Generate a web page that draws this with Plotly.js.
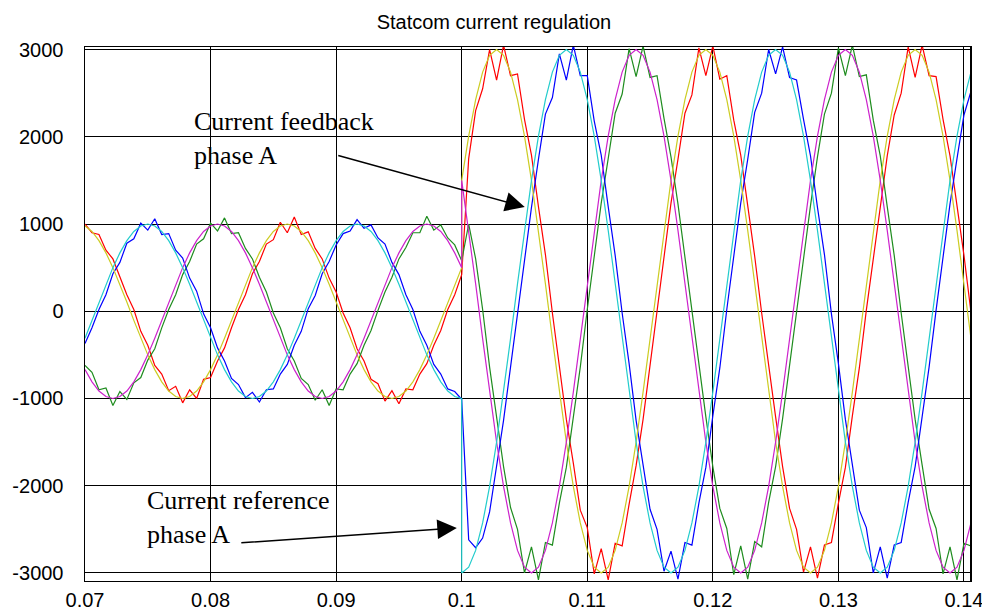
<!DOCTYPE html>
<html>
<head>
<meta charset="utf-8">
<script src="https://cdn.plot.ly/plotly-3.0.1.min.js"></script>
<style>html,body{margin:0;padding:0;background:#fff;}#chart{width:982px;height:613px;}</style>
</head>
<body>
<div id="chart"></div>
<script>
// time axis (s); 0.1 appears twice for the step in the references
const t = [
0.07,0.070556,0.071111,0.071667,0.072222,0.072778,0.073333,0.073889,0.074444,0.075,0.075556,0.076111,0.076667,0.077222,0.077778,0.078333,0.078889,0.079444,
0.08,0.080556,0.081111,0.081667,0.082222,0.082778,0.083333,0.083889,0.084444,0.085,0.085556,0.086111,0.086667,0.087222,0.087778,0.088333,0.088889,0.089444,
0.09,0.090556,0.091111,0.091667,0.092222,0.092778,0.093333,0.093889,0.094444,0.095,0.095556,0.096111,0.096667,0.097222,0.097778,0.098333,0.098889,0.099444,
0.1,0.1,
0.100556,0.101111,0.101667,0.102222,0.102778,0.103333,0.103889,0.104444,0.105,0.105556,0.106111,0.106667,0.107222,0.107778,0.108333,0.108889,0.109444,
0.11,0.110556,0.111111,0.111667,0.112222,0.112778,0.113333,0.113889,0.114444,0.115,0.115556,0.116111,0.116667,0.117222,0.117778,0.118333,0.118889,0.119444,
0.12,0.120556,0.121111,0.121667,0.122222,0.122778,0.123333,0.123889,0.124444,0.125,0.125556,0.126111,0.126667,0.127222,0.127778,0.128333,0.128889,0.129444,
0.13,0.130556,0.131111,0.131667,0.132222,0.132778,0.133333,0.133889,0.134444,0.135,0.135556,0.136111,0.136667,0.137222,0.137778,0.138333,0.138889,0.139444,
0.14,0.140556,0.141111
];

// current references (smooth)
const refA = [
-309,-105,105,309,500,669,809,914,978,1000,978,914,809,669,500,309,105,-105,-309,-500,-669,-809,-914,-978,-1000,-978,-914,-809,-669,-500,
-309,-105,105,309,500,669,809,914,978,1000,978,914,809,669,500,309,105,-105,-309,-500,-669,-809,-914,-978,-1000,
-3000,
-2934,-2741,-2427,-2007,-1500,
-927,-314,314,927,1500,2007,2427,2741,2934,3000,2934,2741,2427,2007,1500,927,314,-314,-927,-1500,-2007,-2427,-2741,-2934,-3000,-2934,-2741,-2427,-2007,-1500,
-927,-314,314,927,1500,2007,2427,2741,2934,3000,2934,2741,2427,2007,1500,927,314,-314,-927,-1500,-2007,-2427,-2741,-2934,-3000,-2934,-2741,-2427,-2007,-1500,
-927,-314,314,927,1500,2007,2427,2741,2934
];
const refB = [
978,914,809,669,500,309,105,-105,-309,-500,-669,-809,-914,-978,-1000,-978,-914,-809,-669,-500,
-309,-105,105,309,500,669,809,914,978,1000,978,914,809,669,500,309,105,-105,-309,-500,-669,-809,-914,-978,-1000,-978,-914,-809,-669,-500,
-309,-105,105,309,500,
1500,
2007,2427,2741,2934,3000,2934,2741,2427,2007,1500,927,314,-314,-927,-1500,-2007,-2427,-2741,-2934,-3000,-2934,-2741,-2427,-2007,-1500,
-927,-314,314,927,1500,2007,2427,2741,2934,3000,2934,2741,2427,2007,1500,927,314,-314,-927,-1500,-2007,-2427,-2741,-2934,-3000,-2934,-2741,-2427,-2007,-1500,
-927,-314,314,927,1500,2007,2427,2741,2934,3000,2934,2741,2427,2007,1500,927,314,-314,-927
];
const refC = [
-669,-809,-914,-978,-1000,-978,-914,-809,-669,-500,
-309,-105,105,309,500,669,809,914,978,1000,978,914,809,669,500,309,105,-105,-309,-500,-669,-809,-914,-978,-1000,-978,-914,-809,-669,-500,
-309,-105,105,309,500,669,809,914,978,1000,978,914,809,669,500,
1500,
927,314,-314,-927,-1500,-2007,-2427,-2741,-2934,-3000,-2934,-2741,-2427,-2007,-1500,
-927,-314,314,927,1500,2007,2427,2741,2934,3000,2934,2741,2427,2007,1500,927,314,-314,-927,-1500,-2007,-2427,-2741,-2934,-3000,-2934,-2741,-2427,-2007,-1500,
-927,-314,314,927,1500,2007,2427,2741,2934,3000,2934,2741,2427,2007,1500,927,314,-314,-927,-1500,-2007,-2427,-2741,-2934,-3000,-2934,-2741,-2427,-2007
];

// current feedbacks (noisy)
const fbA = [
-370,-190,20,190,430,560,780,830,1010,930,
1060,880,890,700,610,380,230,-30,-190,-420,
-570,-770,-840,-990,-930,-1040,-900,-890,-720,-610,
-390,-230,30,180,430,570,760,890,920,1050,
950,990,840,770,560,420,190,20,-230,-390,
-610,-720,-890,-920,-1010,
-1010,
-2620,-2710,-2600,-2300,-1800,
-1250,-640,-20,600,1190,1740,2260,2450,2950,2650,
3050,2700,2700,2180,1790,1200,640,-20,-600,-1250,
-1740,-2270,-2500,-2980,-2750,-3070,-2650,-2680,-2200,-1790,
-1200,-650,20,600,1240,1740,2280,2500,3000,2720,
3030,2680,2650,2200,1780,1190,650,-30,-600,-1240,
-1750,-2280,-2480,-3000,-2700,-3060,-2680,-2650,-2190,-1780,
-1210,-640,10,610,1230,1750,2250,2520,2900
];
const fbB = [
1000,900,880,700,600,390,190,20,-230,-390,
-620,-720,-910,-860,-1050,-900,-1000,-780,-760,-570,
-420,-190,20,190,430,570,770,820,1020,900,
1080,880,910,720,600,380,220,-20,-190,-430,
-570,-780,-830,-1030,-910,-1060,-890,-900,-720,-600,
-390,-220,20,190,420,
420,
1750,2300,2550,3000,2650,
3050,2700,2720,2200,1790,1200,650,-20,-610,-1240,
-1740,-2280,-2480,-3010,-2720,-3080,-2660,-2690,-2210,-1770,
-1240,-610,30,600,1240,1740,2270,2480,3020,2700,
3040,2660,2700,2190,1790,1210,630,-20,-640,-1210,
-1780,-2260,-2500,-2990,-2700,-3060,-2680,-2650,-2200,-1790,
-1200,-650,10,620,1200,1780,2250,2500,3030,2680,
3050,2700,2690,2200,1780,1200,640,-10,-620
];
const fbC = [
-620,-700,-900,-880,-1080,-920,-1010,-820,-760,-560,
-430,-190,20,190,420,570,770,830,1010,920,
1070,890,900,720,600,390,220,-20,-190,-430,
-570,-770,-840,-1020,-900,-1080,-890,-900,-720,-600,
-390,-220,10,220,390,600,730,900,900,1090,
930,990,840,760,580,
580,
1000,600,20,-640,-1200,
-1780,-2250,-2500,-3000,-2700,-3080,-2650,-2680,-2200,-1790,
-1210,-640,20,610,1240,1750,2270,2490,3010,2690,
3040,2680,2700,2210,1770,1230,610,20,-640,-1210,
-1780,-2260,-2490,-3020,-2690,-3070,-2640,-2700,-2190,-1780,
-1230,-610,10,640,1210,1770,2260,2500,3020,2700,
3050,2690,2710,2190,1780,1200,640,-20,-610,-1240,
-1760,-2270,-2490,-3010,-2700,-3080,-2660,-2690,-2210
];

const xTickVals = [0.07,0.08,0.09,0.1,0.11,0.12,0.13,0.14];
const xTickText = ['0.07','0.08','0.09','0.1','0.11','0.12','0.13','0.14'];
const yTickVals = [-3000,-2000,-1000,0,1000,2000,3000];
const yTickText = ['-3000','-2000','-1000','0','1000','2000','3000'];

const series = [
  {y: fbB, color: '#FF0000'},
  {y: fbC, color: '#1E8C1E'},
  {y: fbA, color: '#0000FF'},
  {y: refB, color: '#CCCC22'},
  {y: refC, color: '#CC22CC'},
  {y: refA, color: '#22CCCC'}
];
const traces = series.map(s => ({
  x: t, y: s.y, type: 'scatter', mode: 'lines',
  line: {color: s.color, width: 1.2}, hoverinfo: 'skip', showlegend: false
}));

const sans = 'Liberation Sans, Arial, sans-serif';
const serif = 'Liberation Serif, Times New Roman, serif';
const L = 85, R = 970, T = 47, B = 581;
const px = v => (v - L) / (R - L);
const py = v => (B - v) / (B - T);

const layout = {
  width: 982, height: 613,
  margin: {l: L, r: 982 - R, t: T, b: 613 - B, pad: 0},
  paper_bgcolor: '#fff', plot_bgcolor: '#fff',
  font: {family: sans, size: 20, color: '#000'},
  title: {text: 'Statcom current regulation', x: 0.503, xref: 'container', xanchor: 'center',
          y: 1 - 22/613, yref: 'container', yanchor: 'middle', font: {family: sans, size: 20, color: '#000'}},
  xaxis: {range: [0.07, 0.14048], tickvals: xTickVals, ticktext: xTickText, showgrid: true,
          gridcolor: '#000', gridwidth: 1, showline: true, mirror: true, linecolor: '#000', linewidth: 1,
          ticks: '', zeroline: false, ticklabelstandoff: 1, ticklabeloverflow: 'allow',
          tickfont: {family: sans, size: 20, color: '#000'}},
  yaxis: {range: [-3092, 3029], tickvals: yTickVals, ticktext: yTickText, showgrid: true,
          gridcolor: '#000', gridwidth: 1, showline: true, mirror: true, linecolor: '#000', linewidth: 1.5,
          ticks: '', zeroline: false, ticklabelstandoff: 16, ticklabeloverflow: 'allow',
          tickfont: {family: sans, size: 20, color: '#000'}},
  shapes: [
    {type: 'rect', xref: 'paper', yref: 'paper', x0: px(185), x1: px(437), y0: py(193), y1: py(100),
     fillcolor: '#fff', line: {width: 0}, layer: 'between'},
    {type: 'rect', xref: 'paper', yref: 'paper', x0: px(130), x1: px(372), y0: py(560), y1: py(470),
     fillcolor: '#fff', line: {width: 0}, layer: 'between'}
  ],
  annotations: [
    {text: 'Current feedback<br>phase A', xref: 'paper', yref: 'paper', x: px(192), y: py(138),
     xanchor: 'left', yanchor: 'middle', align: 'left', showarrow: false,
     font: {family: serif, size: 26, color: '#000'}},
    {text: 'Current reference<br>phase A', xref: 'paper', yref: 'paper', x: px(145), y: py(517),
     xanchor: 'left', yanchor: 'middle', align: 'left', showarrow: false,
     font: {family: serif, size: 26, color: '#000'}},
    {text: '', x: 0.10502, y: 1195, xref: 'x', yref: 'y', showarrow: true, arrowhead: 2,
     arrowsize: 2.6, arrowwidth: 1.5, arrowcolor: '#000', ax: -188, ay: -52, standoff: 0},
    {text: '', x: 0.09961, y: -2484, xref: 'x', yref: 'y', showarrow: true, arrowhead: 2,
     arrowsize: 2.6, arrowwidth: 1.5, arrowcolor: '#000', ax: -217, ay: 15, standoff: 0}
  ]
};

Plotly.newPlot('chart', traces, layout, {staticPlot: true, displayModeBar: false});
</script>
</body>
</html>
